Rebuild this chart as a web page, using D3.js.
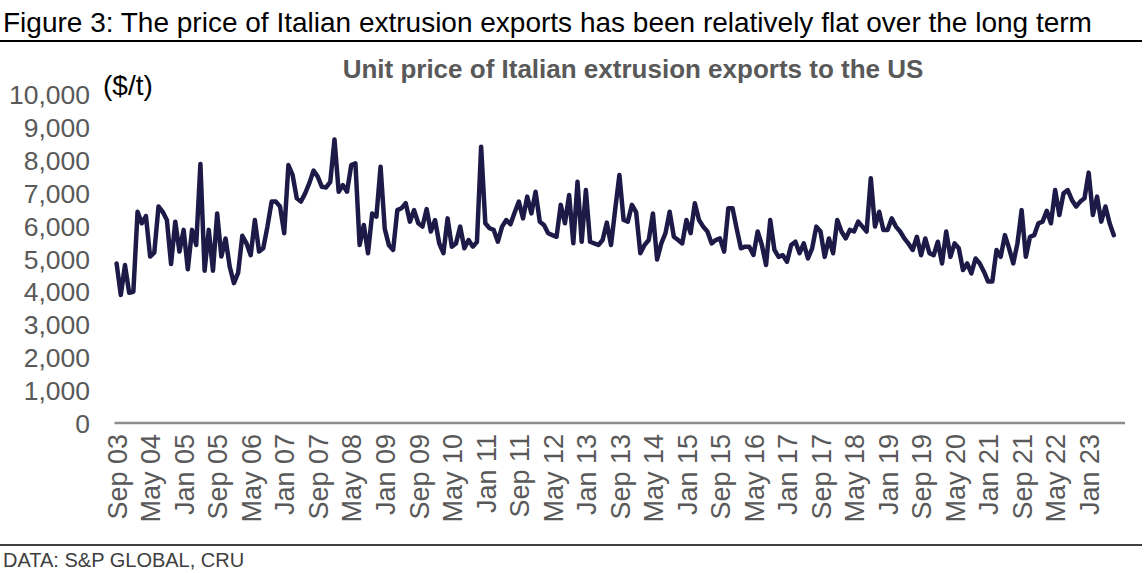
<!DOCTYPE html>
<html lang="en">

<head>
  <meta charset="UTF-8">
  <script src="https://d3js.org/d3.v7.min.js"></script>
  <title>Italian extrusion exports</title>
  <style>
    body {
      margin: 0;
      background: white;
      font-family: 'Liberation Sans', Arial, sans-serif;
    }
  </style>
</head>

<body>
  <svg id="chart" width="1145" height="573"></svg>

  <script>
    // monthly unit price, $/t, from Sep 2003
    const startYear = 2003;
    const startMonth = 8; // Sep (0-based)
    const prices = [
      4850, 3890, 4800, 3960, 3990, 6420, 6070, 6290, 5060, 5180,
      6580, 6420, 6170, 4830, 6120, 5210, 5870, 4670, 5870, 5410,
      7870, 4630, 5870, 4630, 6370, 5060, 5610, 4750, 4250, 4560,
      5690, 5460, 5100, 6170, 5210, 5310, 5970, 6730, 6730, 6580,
      5770, 7840, 7540, 6830, 6730, 6980, 7290, 7670, 7490, 7180,
      7160, 7330, 8620, 7030, 7230, 7030, 7840, 7890, 5410, 6020,
      5160, 6370, 6270, 7790, 5900, 5400, 5260, 6470, 6530, 6680,
      6120, 6470, 6070, 5970, 6500, 5820, 6170, 5460, 5160, 6220,
      5360, 5460, 5970, 5310, 5560, 5360, 5500, 8400, 6070, 5920,
      5870, 5510, 5970, 6170, 6040, 6400, 6730, 6220, 6880, 6370,
      7030, 6120, 6020, 5770, 5710, 5660, 6630, 6070, 6930, 5460,
      7330, 5510, 7080, 5510, 5460, 5410, 5560, 6090, 5410, 6500,
      7540, 6170, 6120, 6630, 6400, 5160, 5410, 5560, 6370, 4970,
      5460, 5770, 6420, 5660, 5560, 5460, 6170, 5770, 6680, 6170,
      5970, 5820, 5460, 5560, 5610, 5210, 6530, 6530, 5900, 5310,
      5360, 5360, 5110, 5820, 5410, 4800, 6170, 5260, 5050, 5100,
      4900, 5410, 5510, 5160, 5460, 5000, 5310, 5970, 5820, 5050,
      5610, 5160, 6170, 5820, 5610, 5870, 5820, 6120, 5970, 5820,
      7440, 5970, 6420, 5870, 5870, 6220, 5970, 5820, 5610, 5450,
      5260, 5660, 5100, 5610, 5160, 5100, 5510, 4850, 5820, 5050,
      5460, 5310, 4650, 4850, 4550, 5000, 4850, 4600, 4300, 4300,
      5260, 5050, 5710, 5310, 4850, 5460, 6470, 5050, 5660, 5710,
      6070, 6120, 6450, 6070, 7080, 6320, 6980, 7080, 6780, 6580,
      6730, 6830, 7610, 6320, 6880, 6120, 6580, 6070, 5710
    ];
    const yTicks = [0, 1000, 2000, 3000, 4000, 5000, 6000, 7000, 8000, 9000, 10000];
    const tickEvery = 8; // months between x labels

    const monthNames = ['Jan', 'Feb', 'Mar', 'Apr', 'May', 'Jun', 'Jul', 'Aug', 'Sep', 'Oct', 'Nov', 'Dec'];
    const months = prices.map((d, i) => {
      const m = startMonth + i;
      const yr = startYear + Math.floor(m / 12);
      return monthNames[m % 12] + ' ' + String(yr % 100).padStart(2, '0');
    });
    const data = prices.map((v, i) => ({ month: months[i], value: v }));

    const svg = d3.select("#chart");

    // figure heading and rules
    svg.append('text')
      .text('Figure 3: The price of Italian extrusion exports has been relatively flat over the long term')
      .attr('x', 3)
      .attr('y', 32)
      .style('font-size', '28px')
      .style('fill', '#000');

    svg.append('line')
      .attr('x1', 0).attr('x2', 1142)
      .attr('y1', 41).attr('y2', 41)
      .style('stroke', '#000')
      .style('stroke-width', 2);

    svg.append('line')
      .attr('x1', 0).attr('x2', 1142)
      .attr('y1', 545).attr('y2', 545)
      .style('stroke', '#000')
      .style('stroke-width', 1.5);

    svg.append('text')
      .text('DATA: S&P GLOBAL, CRU')
      .attr('x', 3)
      .attr('y', 567)
      .style('font-size', '20px')
      .style('fill', '#404040');

    // scales
    const x = d3.scalePoint()
      .domain(months)
      .range([116.6, 116.6 + 4.19 * (months.length - 1)]);

    const y = d3.scaleLinear()
      .domain([0, 10000])
      .range([423, 94]);

    // chart title
    svg.append('text')
      .text('Unit price of Italian extrusion exports to the US')
      .attr('x', 633)
      .attr('y', 78)
      .attr('text-anchor', 'middle')
      .style('font-size', '26px')
      .style('font-weight', 'bold')
      .style('fill', '#595959');

    svg.append('text')
      .text('($/t)')
      .attr('x', 103)
      .attr('y', 95)
      .style('font-size', '28px')
      .style('fill', '#000');

    // y axis (labels only)
    const yAxis = svg.append('g')
      .attr('transform', 'translate(90,0)')
      .call(d3.axisLeft(y).tickValues(yTicks).tickSize(0).tickPadding(0)
        .tickFormat(d3.format(',')));
    yAxis.select('.domain').remove();
    yAxis.selectAll('text')
      .attr('dy', '0.36em')
      .style('font-family', "'Liberation Sans', Arial, sans-serif")
      .style('font-size', '26.5px')
      .style('fill', '#595959');

    // x axis
    const xAxis = svg.append('g')
      .attr('transform', 'translate(0,423)')
      .call(d3.axisBottom(x)
        .tickValues(months.filter((d, i) => i % tickEvery == 0))
        .tickSize(0).tickPadding(0));
    xAxis.select('.domain')
      .attr('d', 'M114.5,0H1125')
      .style('stroke', '#8c8c8c')
      .style('stroke-width', 2.5);
    xAxis.selectAll('text')
      .attr('transform', 'rotate(-90)')
      .attr('text-anchor', 'end')
      .attr('x', -11)
      .attr('y', 0)
      .attr('dy', '0.36em')
      .style('font-family', "'Liberation Sans', Arial, sans-serif")
      .style('font-size', '27px')
      .style('fill', '#595959');

    // price line
    const line = d3.line()
      .x(d => x(d.month))
      .y(d => y(d.value));

    svg.append('path')
      .datum(data)
      .attr('d', line)
      .style('fill', 'none')
      .style('stroke', '#1e1a48')
      .style('stroke-width', 4.5)
      .style('stroke-linejoin', 'round')
      .style('stroke-linecap', 'round');
  </script>
</body>

</html>
